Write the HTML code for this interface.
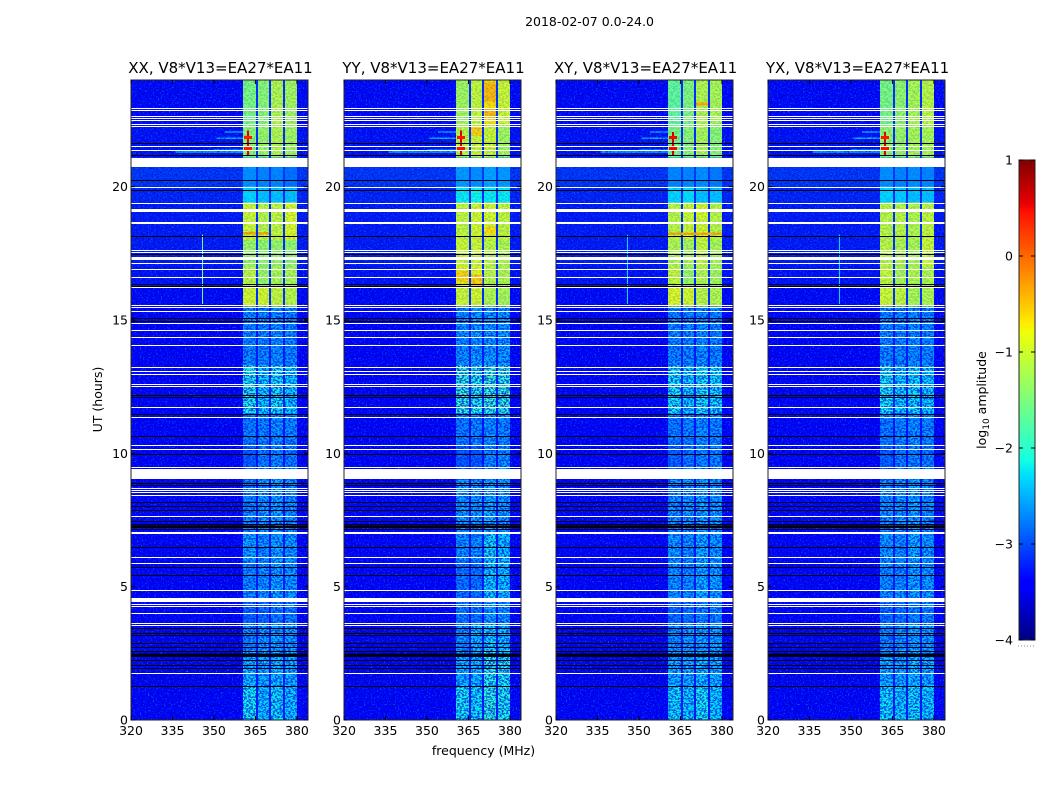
<!DOCTYPE html>
<html lang="en">
<head>
<meta charset="utf-8">
<title>2018-02-07 0.0-24.0</title>
<style>
html,body{margin:0;padding:0;background:#fff;}
svg{display:block;}
text{font-family:"DejaVu Sans","Liberation Sans",sans-serif;fill:#000;}
</style>
</head>
<body>
<svg id="figure" xmlns="http://www.w3.org/2000/svg" width="1050" height="800" viewBox="0 0 1050 800">
  <defs>
    <filter id="speckle-light" x="0" y="0" width="1" height="1" color-interpolation-filters="sRGB">
      <feTurbulence type="fractalNoise" baseFrequency="0.62 0.7" numOctaves="2" seed="4"/>
      <feColorMatrix type="matrix" values="0 0 0 0 0.03  0 0 0 0 0.42  0 0 0 0 1  3.6 0 0 0 -1.95"/>
    </filter>
    <filter id="speckle-dark" x="0" y="0" width="1" height="1" color-interpolation-filters="sRGB">
      <feTurbulence type="fractalNoise" baseFrequency="0.58 0.66" numOctaves="2" seed="11"/>
      <feColorMatrix type="matrix" values="0 0 0 0 0  0 0 0 0 0  0 0 0 0 0.62  3.4 0 0 0 -1.55"/>
    </filter>
    <filter id="speckle-strip" x="0" y="0" width="1" height="1" color-interpolation-filters="sRGB">
      <feTurbulence type="fractalNoise" baseFrequency="0.45 0.6" numOctaves="2" seed="7"/>
      <feColorMatrix type="matrix" values="0 0 0 0 0  0 0 0 0 0.12  0 0 0 0 0.92  7 0 0 0 -3.1"/>
    </filter>
  </defs>
  <text x="589.5" y="26" font-size="12.5" text-anchor="middle">2018-02-07 0.0-24.0</text>
  <text x="0" y="0" font-size="12.5" text-anchor="middle" transform="translate(102,399.5) rotate(-90)">UT (hours)</text>
  <text x="483.5" y="755" font-size="12.5" text-anchor="middle">frequency (MHz)</text>
  <text x="0" y="0" font-size="12.5" text-anchor="middle" transform="translate(986,400) rotate(-90)">log<tspan font-size="9" dy="3">10</tspan><tspan dy="-3"> amplitude</tspan></text>
  <g id="panels"></g>
  <g id="colorbar"></g>
  <line x1="1018" y1="646" x2="1035" y2="646" stroke="#888" stroke-width="1" stroke-dasharray="1 2"/>
</svg>
<script>
// ---- chart data (hours, MHz, log10 amplitude) ----
const panelTitles = ["XX, V8*V13=EA27*EA11","YY, V8*V13=EA27*EA11","XY, V8*V13=EA27*EA11","YX, V8*V13=EA27*EA11"];
const freqTicks = [320,335,350,365,380];
const hourTicks = [0,5,10,15,20];
const colorTicks = [-4,-3,-2,-1,0,1];
const stripStart = [360.5,365.9,370.6,375.7];
const stripEnd = [365.2,369.9,374.9,380.0];
const bandEdges = [0,1.3,2.6,3.6,4.5,6,7,9,10.3,11.5,13.3,15.5,16.2,17,18,19.4,20,21.1,22.3,24];
const backgroundLevels = [-3.45,-3.5,-3.5,-3.45,-3.45,-3.45,-3.45,-3.45,-3.45,-3.45,-3.45,-3.35,-3.3,-3.25,-3.25,-3.2,-3.1,-3.3,-3.35];
const gapLevels = [-3.25,-3.25,-3.25,-3.3,-3.25,-3.25,-3.3,-3.3,-3.3,-3.2,-3.25,-3.15,-3.15,-3.15,-3.15,-3.15,-3.1,-3.15,-3.15];
const stripLevelsXX = [
[-2.15,-2.3,-2.2,-2.3],[-2.35,-2.4,-2.35,-2.4],[-2.6,-2.5,-2.45,-2.5],[-2.8,-2.75,-2.65,-2.65],
[-2.6,-2.55,-2.45,-2.5],[-2.45,-2.55,-2.45,-2.5],[-2.6,-2.5,-2.45,-2.55],[-2.85,-2.65,-2.6,-2.65],
[-2.65,-2.6,-2.55,-2.6],[-2.1,-2.25,-2.15,-2.25],[-2.6,-2.6,-2.55,-2.6],[-0.95,-0.95,-1.05,-1.1],
[-1.1,-1.3,-1.2,-1.2],[-1.3,-1.35,-1.3,-1.35],[-1.0,-1.1,-1.05,-0.9],[-2.3,-2.4,-2.4,-2.4],
[-2.65,-2.7,-2.7,-2.8],[-1.4,-1.3,-1.15,-1.25],[-1.5,-1.4,-1.15,-1.25]];
const stripLevelsYY = [
[-2.15,-2.2,-2.0,-2.1],[-2.4,-2.35,-2.05,-2.1],[-2.55,-2.35,-2.25,-2.3],[-2.65,-2.7,-2.5,-2.55],
[-2.7,-2.7,-2.25,-2.3],[-2.55,-2.55,-2.2,-2.3],[-2.5,-2.5,-2.4,-2.5],[-2.85,-2.85,-2.6,-2.55],
[-2.65,-2.6,-2.55,-2.6],[-1.95,-2.05,-1.95,-1.95],[-2.55,-2.5,-2.5,-2.5],[-1.0,-0.95,-1.15,-1.2],
[-0.9,-0.85,-1.1,-1.15],[-1.0,-1.0,-1.1,-1.15],[-1.05,-0.95,-0.95,-1.05],[-2.2,-2.15,-2.2,-2.2],
[-2.6,-2.65,-2.55,-2.6],[-1.1,-1.0,-1.0,-1.25],[-1.25,-1.05,-0.65,-1.0]];
const stripLevelsXY = [
[-2.2,-2.25,-2.15,-2.25],[-2.4,-2.4,-2.3,-2.35],[-2.55,-2.5,-2.45,-2.45],[-2.75,-2.7,-2.6,-2.6],
[-2.55,-2.55,-2.4,-2.45],[-2.5,-2.55,-2.4,-2.5],[-2.55,-2.5,-2.45,-2.5],[-2.8,-2.65,-2.6,-2.6],
[-2.65,-2.6,-2.55,-2.6],[-2.15,-2.25,-2.15,-2.2],[-2.6,-2.6,-2.55,-2.6],[-0.9,-0.95,-1.1,-1.15],
[-1.05,-1.3,-1.15,-1.25],[-1.15,-1.2,-1.05,-1.2],[-1.1,-1.0,-0.95,-1.1],[-2.3,-2.25,-2.4,-2.4],
[-2.7,-2.7,-2.65,-2.75],[-1.5,-1.4,-1.2,-1.4],[-1.65,-1.45,-1.15,-1.2]];
const stripLevelsYX = [
[-2.2,-2.25,-2.2,-2.25],[-2.4,-2.4,-2.35,-2.4],[-2.6,-2.5,-2.45,-2.5],[-2.75,-2.7,-2.6,-2.6],
[-2.55,-2.55,-2.45,-2.5],[-2.5,-2.55,-2.4,-2.5],[-2.55,-2.5,-2.45,-2.55],[-2.8,-2.65,-2.6,-2.65],
[-2.65,-2.6,-2.55,-2.6],[-2.15,-2.25,-2.2,-2.25],[-2.6,-2.6,-2.55,-2.6],[-1.0,-1.05,-1.2,-1.15],
[-1.05,-1.2,-1.15,-1.15],[-1.1,-1.15,-1.2,-1.0],[-1.1,-1.1,-1.15,-1.05],[-2.3,-2.35,-2.4,-2.4],
[-2.65,-2.7,-2.65,-2.7],[-1.35,-1.3,-1.2,-1.2],[-1.5,-1.35,-1.2,-1.1]];
const maskedRows = [22.95,22.88,22.65,22.58,22.5,22.35,22.28,21.53,21.38,19.99,19.39,18.68,18.62,17.63,17.55,17.14,16.91,16.61,16.24,15.56,15.49,15.34,14.89,14.63,14.36,14.06,13.24,13.09,12.98,12.6,12.53,11.74,11.36,10.31,10.16,9.49,8.7,8.63,8.55,8.44,7.65,6.11,5.89,4.88,4.35,4.28,4.01,3.64,3.56,1.76];
const maskedBlockStart = [20.74,19.05,17.25,9.04,6.98,4.43];
const maskedBlockEnd = [21.08,19.16,17.36,9.41,7.05,4.58];
const zeroRows = [21.64,21.19,20.25,19.88,18.15,17.48,16.35,16.29,15.08,14.96,12.19,12.11,11.48,10.65,9.98,8.89,8.81,8.18,8.03,7.88,7.46,7.35,7.16,6.49,5.74,5.44,3.45,3.26,3.19,2.89,2.74,2.59,2.25,2.06,1.95,1.27];
const zeroBlockStart = [7.2,2.36];
const zeroBlockEnd = [7.3,2.5];
const burstFreq = 362.3;
const burstTop = [22.1,22.1,22.05,22.05];
const burstBottom = [21.15,21.15,21.15,21.15];
const burstCenters = [21.84,21.44];
const burstLevels = [0.55,0.6,0.65,0.6];
const streakHours = [22.05,21.82,21.36,21.3];
const streakFreqStart = [354,351,350,336];
const streakLevels = [-2.7,-2.4,-2.3,-2.6];
const rfiFreq = [345.7,345.7,345.7,345.7];
const rfiBottom = [15.6,0,15.6,15.6];
const rfiTop = [18.2,0,18.2,18.2];
const rfiLevels = [-1.6,-3,-2.3,-2.3];
const warmPatchPanel = [0,0,1,1,1,1,1,1,2,2];
const warmPatchFreqStart = [360.5,365.9,370.6,371,365.9,360.5,366,371,360.5,370.6];
const warmPatchFreqEnd = [365.2,369.9,374.9,374.9,369.9,365.2,370,374.9,380,374.9];
const warmPatchStart = [18.2,18.2,23.2,22.6,21.9,16.4,16.2,18.2,18.18,23.05];
const warmPatchEnd = [18.3,18.3,23.9,22.95,22.25,16.85,16.7,18.5,18.28,23.15];
const warmPatchLevels = [-0.35,-0.35,-0.45,-0.45,-0.6,-0.6,-0.55,-0.65,-0.4,-0.35];
const stripSets = [stripLevelsXX,stripLevelsYY,stripLevelsXY,stripLevelsYX];
const quietHourTop = 15.5;

// ---- layout (not data) ----
const panelLeft = [131,344,556,768];
const panelWidth = 177;
const plotTop = 80, plotBottom = 720;
const freqMin = 320, freqMax = 384, hourMin = 0, hourMax = 24;
const NS = "http://www.w3.org/2000/svg";

function xScale(i, f){ return panelLeft[i] + (f - freqMin) / (freqMax - freqMin) * panelWidth; }
function yScale(h){ return plotBottom - (h - hourMin) / (hourMax - hourMin) * (plotBottom - plotTop); }

function interp(table, t){
  for(let k = 1; k < table.length; k++){
    if(t <= table[k][0]){
      const a = table[k-1], b = table[k];
      return a[1] + (b[1]-a[1]) * (t-a[0]) / (b[0]-a[0]);
    }
  }
  return table[table.length-1][1];
}
const jetR = [[0,0],[0.35,0],[0.66,1],[0.89,1],[1,0.5]];
const jetG = [[0,0],[0.125,0],[0.375,1],[0.64,1],[0.91,0],[1,0]];
const jetB = [[0,0.5],[0.11,1],[0.34,1],[0.65,0],[1,0]];
function jet(v){
  const t = Math.max(0, Math.min(1, (v + 4) / 5));
  return "rgb(" + Math.round(255*interp(jetR,t)) + "," + Math.round(255*interp(jetG,t)) + "," + Math.round(255*interp(jetB,t)) + ")";
}
function addRect(parent, x, y, w, h, fill){
  const r = document.createElementNS(NS, "rect");
  r.setAttribute("x", x);
  r.setAttribute("y", y);
  r.setAttribute("width", w);
  r.setAttribute("height", h);
  r.setAttribute("fill", fill);
  r.setAttribute("shape-rendering", "crispEdges");
  parent.appendChild(r);
  return r;
}
function addLine(parent, x1, y1, x2, y2, stroke, sw){
  const l = document.createElementNS(NS, "line");
  l.setAttribute("x1", x1);
  l.setAttribute("y1", y1);
  l.setAttribute("x2", x2);
  l.setAttribute("y2", y2);
  l.setAttribute("stroke", stroke);
  l.setAttribute("stroke-width", sw);
  parent.appendChild(l);
  return l;
}
function addText(parent, x, y, str, size, anchor){
  const t = document.createElementNS(NS, "text");
  t.setAttribute("x", x);
  t.setAttribute("y", y);
  t.setAttribute("font-size", size);
  t.setAttribute("text-anchor", anchor);
  t.textContent = str;
  parent.appendChild(t);
  return t;
}
function minus(n){ return n < 0 ? "\u2212" + Math.abs(n) : String(n); }

const panelsRoot = document.getElementById("panels");
panelTitles.forEach(function(title, p){
  const g = document.createElementNS(NS, "g");
  
  
  panelsRoot.appendChild(g);

  const left = panelLeft[p];
  const bg = addRect(g, left, plotTop, panelWidth, plotBottom-plotTop, jet(-3.45));
  
  

  // background bands
  for(let b = 0; b < bandEdges.length-1; b++){
    const yT = yScale(bandEdges[b+1]), yB = yScale(bandEdges[b]);
    const bgCell = addRect(g, left, yT, panelWidth, yB-yT, jet(backgroundLevels[b]));
    
    
  }
  // streaks left of the strip
  streakHours.forEach(function(h, k){
    const x0 = xScale(p, streakFreqStart[k]);
    const s = addRect(g, x0, yScale(h)-0.8, xScale(p, stripStart[0]) - x0, 1.6, jet(streakLevels[k]));
    
    
  });
  // full-panel noise
  const noiseA = addRect(g, left, plotTop, panelWidth, plotBottom-plotTop, "#000");
  noiseA.setAttribute("filter", "url(#speckle-light)");
  
  
  const noiseB = addRect(g, left, plotTop, panelWidth, plotBottom-plotTop, "#000");
  noiseB.setAttribute("filter", "url(#speckle-dark)");
  noiseB.setAttribute("opacity", "0.6");
  
  
  // strips, drawn over the noise
  const stripSpanX = xScale(p, stripStart[0]);
  const stripSpanW = xScale(p, stripEnd[3]) - stripSpanX;
  for(let b = 0; b < bandEdges.length-1; b++){
    const yT = yScale(bandEdges[b+1]), yB = yScale(bandEdges[b]);
    const gapCell = addRect(g, stripSpanX, yT, stripSpanW, yB-yT, jet(gapLevels[b]));
    
    
    stripSets[p][b].forEach(function(level, s){
      const x0 = xScale(p, stripStart[s]);
      const cell = addRect(g, x0, yT, xScale(p, stripEnd[s]) - x0, yB-yT, jet(level));
      
      
    });
  }
  // warm patches
  warmPatchPanel.forEach(function(pp, k){
    if(pp !== p) return;
    const x0 = xScale(p, warmPatchFreqStart[k]);
    const patch = addRect(g, x0, yScale(warmPatchEnd[k]), xScale(p, warmPatchFreqEnd[k]) - x0, yScale(warmPatchStart[k]) - yScale(warmPatchEnd[k]), jet(warmPatchLevels[k]));
    
    
  });
  // strong noise on the quiet strips, soft noise on the bright ones
  const quietY = yScale(quietHourTop);
  const noiseQuiet = addRect(g, stripSpanX, quietY, stripSpanW, plotBottom-quietY, "#000");
  noiseQuiet.setAttribute("filter", "url(#speckle-strip)");
  noiseQuiet.setAttribute("opacity", "0.8");
  
  
  const noiseBright = addRect(g, stripSpanX, plotTop, stripSpanW, quietY-plotTop, "#000");
  noiseBright.setAttribute("filter", "url(#speckle-strip)");
  noiseBright.setAttribute("opacity", "0.18");
  
  
  // vertical RFI channel
  if(rfiTop[p] > rfiBottom[p]){
    const rx = xScale(p, rfiFreq[p]);
    const rfi = addRect(g, rx, yScale(rfiTop[p]), 1, yScale(rfiBottom[p]) - yScale(rfiTop[p]), jet(rfiLevels[p]));
    
    
  }
  // narrowband burst with crossing flares
  const bx = xScale(p, burstFreq);
  const bTop = yScale(burstTop[p]);
  const burst = addRect(g, bx-0.8, bTop, 1.6, yScale(burstBottom[p]) - bTop, jet(burstLevels[p]));
  
  
  burstCenters.forEach(function(h){
    const f = addRect(g, bx-4, yScale(h)-1.5, 8, 3, jet(burstLevels[p]-0.15));
    
    
  });
  // masked (white) and zero (black) rows
  maskedRows.forEach(function(h){
    const r = addRect(g, left, Math.round(yScale(h)), panelWidth, 1, "#fff");
    
    
  });
  maskedBlockStart.forEach(function(h, k){
    const r = addRect(g, left, yScale(maskedBlockEnd[k]), panelWidth, yScale(h) - yScale(maskedBlockEnd[k]), "#fff");
    
    
  });
  zeroRows.forEach(function(h){
    const r = addRect(g, left, Math.round(yScale(h)), panelWidth, 1, "#000010");
    
    
  });
  zeroBlockStart.forEach(function(h, k){
    const r = addRect(g, left, yScale(zeroBlockEnd[k]), panelWidth, yScale(h) - yScale(zeroBlockEnd[k]), "#000010");
    
    
  });
  // frame
  const frame = document.createElementNS(NS, "rect");
  frame.setAttribute("x", left);
  frame.setAttribute("y", plotTop);
  frame.setAttribute("width", panelWidth);
  frame.setAttribute("height", plotBottom-plotTop);
  frame.setAttribute("fill", "none");
  frame.setAttribute("stroke", "#222");
  frame.setAttribute("stroke-width", "1");
  
  
  g.appendChild(frame);
  // x ticks
  freqTicks.forEach(function(f){
    const x = xScale(p, f);
    const t1 = addLine(g, x, plotBottom, x, plotBottom-4, "#000", 1);
    
    
    const t2 = addLine(g, x, plotTop, x, plotTop+4, "#000", 1);
    
    
    const lab = addText(g, x, plotBottom+15, String(f), 12.5, "middle");
    
    
  });
  // y ticks
  hourTicks.forEach(function(h){
    const y = yScale(h);
    const t1 = addLine(g, left, y, left+4, y, "#000", 1);
    
    
    const t2 = addLine(g, left+panelWidth, y, left+panelWidth-4, y, "#000", 1);
    
    
    const lab = addText(g, left-3, y+4.5, String(h), 12.5, "end");
    
    
  });
  // title
  const tt = addText(g, left + panelWidth/2 + 1, 73, title, 15, "middle");
  
  
});

// ---- colorbar ----
const cbRoot = document.getElementById("colorbar");
const cbLeft = 1019, cbRight = 1035, cbTop = 160, cbBottom = 640;
function cbScale(v){ return cbBottom - (v + 4) / 5 * (cbBottom - cbTop); }
for(let y = cbTop; y < cbBottom; y += 2){
  const v = -4 + (cbBottom - y - 1) / (cbBottom - cbTop) * 5;
  const seg = addRect(cbRoot, cbLeft, y, cbRight-cbLeft, 2, jet(v));
  
  
}
const cbOuter = document.createElementNS(NS, "rect");
cbOuter.setAttribute("x", cbLeft);
cbOuter.setAttribute("y", cbTop);
cbOuter.setAttribute("width", cbRight-cbLeft);
cbOuter.setAttribute("height", cbBottom-cbTop);
cbOuter.setAttribute("fill", "none");
cbOuter.setAttribute("stroke", "#222");
cbOuter.setAttribute("stroke-width", "1");


cbRoot.appendChild(cbOuter);
colorTicks.forEach(function(v){
  const y = cbScale(v);
  const a = addLine(cbRoot, cbLeft, y, cbLeft+4, y, "#000", 1);
  
  
  const b = addLine(cbRoot, cbRight, y, cbRight-4, y, "#000", 1);
  
  
  const lab = addText(cbRoot, cbLeft-6, y+4.5, minus(v), 12.5, "end");
  
  
});
</script>
</body>
</html>
